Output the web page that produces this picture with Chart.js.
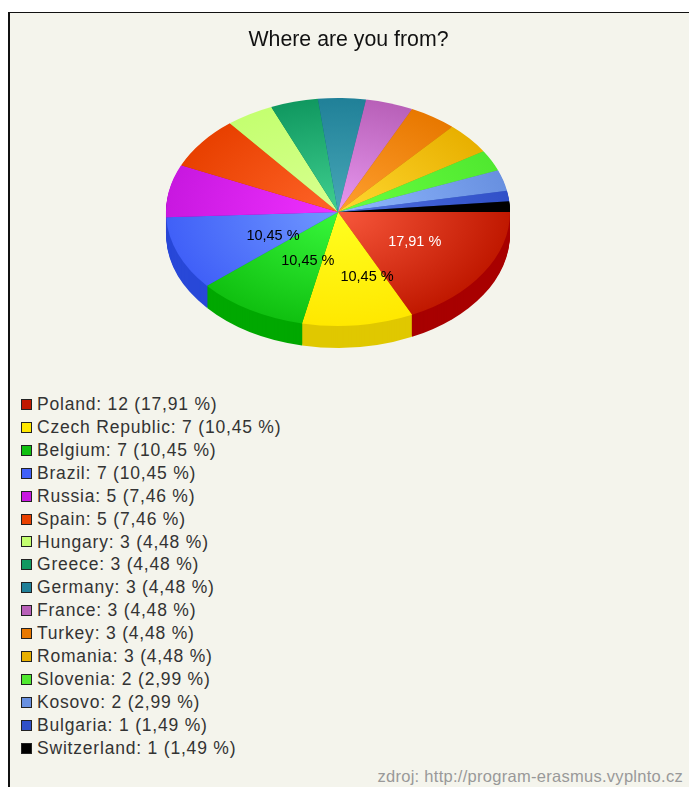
<!DOCTYPE html>
<html>
<head>
<meta charset="utf-8">
<title>Where are you from?</title>
<script src="https://cdn.jsdelivr.net/npm/chart.js@4"></script>
<style>
  html, body { margin: 0; padding: 0; background: #fff; }
  body { width: 689px; height: 787px; overflow: hidden; position: relative; font-family: "Liberation Sans", Arial, sans-serif; }
  #panel { position: absolute; left: 8px; top: 12px; width: 681px; height: 775px; box-sizing: border-box;
           background: #f4f4ec; border-left: 2px solid #111; border-top: 1px solid #111; filter: blur(0.55px); }
  #chartBox { position: absolute; left: 0; top: 0; width: 679px; height: 378px; }
  #legend { position: absolute; left: 11px; top: 380px; margin: 0; padding: 0; list-style: none; }
  #legend li { height: 22.93px; line-height: 22.93px; font-size: 17.5px; color: #333; white-space: nowrap; display: flex; align-items: center; letter-spacing: 0.8px; }
  #legend i { display: block; width: 9px; height: 9px; border: 1px solid #222; margin-right: 5px; }
  #source { position: absolute; right: 6px; bottom: 1px; font-size: 16.5px; letter-spacing: 0.28px; color: #999; }
</style>
</head>
<body>
<div id="panel">
  <div id="chartBox"><canvas id="pie"></canvas></div>
  <ul id="legend"></ul>
  <div id="source">zdroj: http://program-erasmus.vyplnto.cz</div>
</div>
<script>
const categories = ['Poland', 'Czech Republic', 'Belgium', 'Brazil', 'Russia', 'Spain', 'Hungary', 'Greece', 'Germany', 'France', 'Turkey', 'Romania', 'Slovenia', 'Kosovo', 'Bulgaria', 'Switzerland'];
const counts = [12, 7, 7, 7, 5, 5, 3, 3, 3, 3, 3, 3, 2, 2, 1, 1];
const percents = ['17,91', '10,45', '10,45', '10,45', '7,46', '7,46', '4,48', '4,48', '4,48', '4,48', '4,48', '4,48', '2,99', '2,99', '1,49', '1,49'];

// colours of the slices: centre of the top face, rim of the top face, side wall
const innerColors = ['#f8583c', '#ffff20', '#38f83c', '#7098ff', '#f030ff', '#ff6428', '#d8ff90', '#40d090', '#48a8b8', '#e898f0', '#ffa030', '#ffd830', '#68ff40', '#90b8ff', '#5070e0', '#000000'];
const outerColors = ['#c01800', '#ffe800', '#10c010', '#4060f8', '#c818e0', '#e84000', '#c4ff70', '#109860', '#208098', '#b860b8', '#e87800', '#e8b000', '#50e830', '#6890e0', '#3050c8', '#000000'];
const sideColors = ['#a80000', '#e0c800', '#00a800', '#2848d8', '#a000b8', '#c03000', '#a0d850', '#087848', '#086078', '#985098', '#c06000', '#c09000', '#38c020', '#4870c0', '#2040a8', '#000000'];

const squash = 114 / 172;   // ellipse height / width
const depth = 22;           // height of the side wall in px
const pieShift = -10.5;     // the pie sits a bit left of the title
const labelCount = 4;       // only the big slices carry a label
const labelNudge = [[4, 0], [19, 8], [14, 0], [15, 3]];

// turns the flat pie into a tilted disc
const tiltPlugin = {
  id: 'tilt',
  beforeDatasetsDraw(chart) {
    const ctx = chart.ctx;
    const arcs = chart.getDatasetMeta(0).data;
    const cy = (chart.chartArea.top + chart.chartArea.bottom) / 2;
    for (let dy = depth; dy >= 1; dy--) {
      arcs.forEach((arc, i) => {
        ctx.save();
        ctx.translate(pieShift, cy + dy);
        ctx.scale(1, squash);
        ctx.translate(0, -cy);
        ctx.fillStyle = sideColors[i];
        ctx.beginPath();
        ctx.moveTo(arc.x, arc.y);
        ctx.arc(arc.x, arc.y, arc.outerRadius, arc.startAngle, arc.endAngle);
        ctx.closePath();
        ctx.fill();
        ctx.restore();
      });
    }
    ctx.save();
    ctx.translate(pieShift, cy);
    ctx.scale(1, squash);
    ctx.translate(0, -cy);
  },
  afterDatasetsDraw(chart) {
    const ctx = chart.ctx;
    ctx.restore();
    const cy = (chart.chartArea.top + chart.chartArea.bottom) / 2;
    ctx.save();
    ctx.font = '14.5px "Liberation Sans", Arial, sans-serif';
    ctx.textAlign = 'center';
    ctx.textBaseline = 'middle';
    chart.getDatasetMeta(0).data.slice(0, labelCount).forEach((arc, i) => {
      const mid = (arc.startAngle + arc.endAngle) / 2;
      const r = arc.outerRadius / 2;
      ctx.fillStyle = i === 0 ? '#ffffff' : '#000000';
      ctx.fillText(percents[i] + ' %', arc.x + pieShift + Math.cos(mid) * r + labelNudge[i][0], cy + Math.sin(mid) * r * squash + labelNudge[i][1]);
    });
    ctx.restore();
  }
};

// html list instead of the built in legend, it is a single column under the pie
const listLegendPlugin = {
  id: 'listLegend',
  afterUpdate(chart) {
    const ul = document.getElementById('legend');
    ul.innerHTML = '';
    categories.forEach((name, i) => {
      const li = document.createElement('li');
      const box = document.createElement('i');
      box.style.background = outerColors[i];
      li.appendChild(box);
      li.appendChild(document.createTextNode(name + ': ' + counts[i] + ' (' + percents[i] + ' %)'));
      ul.appendChild(li);
    });
  }
};

new Chart(document.getElementById('pie'), {
  type: 'pie',
  data: {
    labels: categories,
    datasets: [{
      data: counts,
      borderWidth: 0,
      clip: false,
      radius: 172,
      backgroundColor(c) {
        const area = c.chart.chartArea;
        if (!area || c.type !== 'data') return outerColors[c.dataIndex] || '#000';
        const x = (area.left + area.right) / 2;
        const y = (area.top + area.bottom) / 2;
        const g = c.chart.ctx.createRadialGradient(x, y, 0, x, y, 172);
        g.addColorStop(0, innerColors[c.dataIndex]);
        g.addColorStop(1, outerColors[c.dataIndex]);
        return g;
      }
    }]
  },
  options: {
    responsive: true,
    maintainAspectRatio: false,
    animation: false,
    rotation: 90,
    layout: { padding: { right: 2, bottom: 27 } },
    plugins: {
      legend: { display: false },
      tooltip: { enabled: false },
      title: {
        display: true,
        text: 'Where are you from?',
        color: '#111',
        font: { family: '"Liberation Sans", Arial, sans-serif', size: 21.3, weight: 'normal' },
        padding: { top: 14.2, bottom: 7.2 }
      }
    }
  },
  plugins: [tiltPlugin, listLegendPlugin]
});
</script>
</body>
</html>
